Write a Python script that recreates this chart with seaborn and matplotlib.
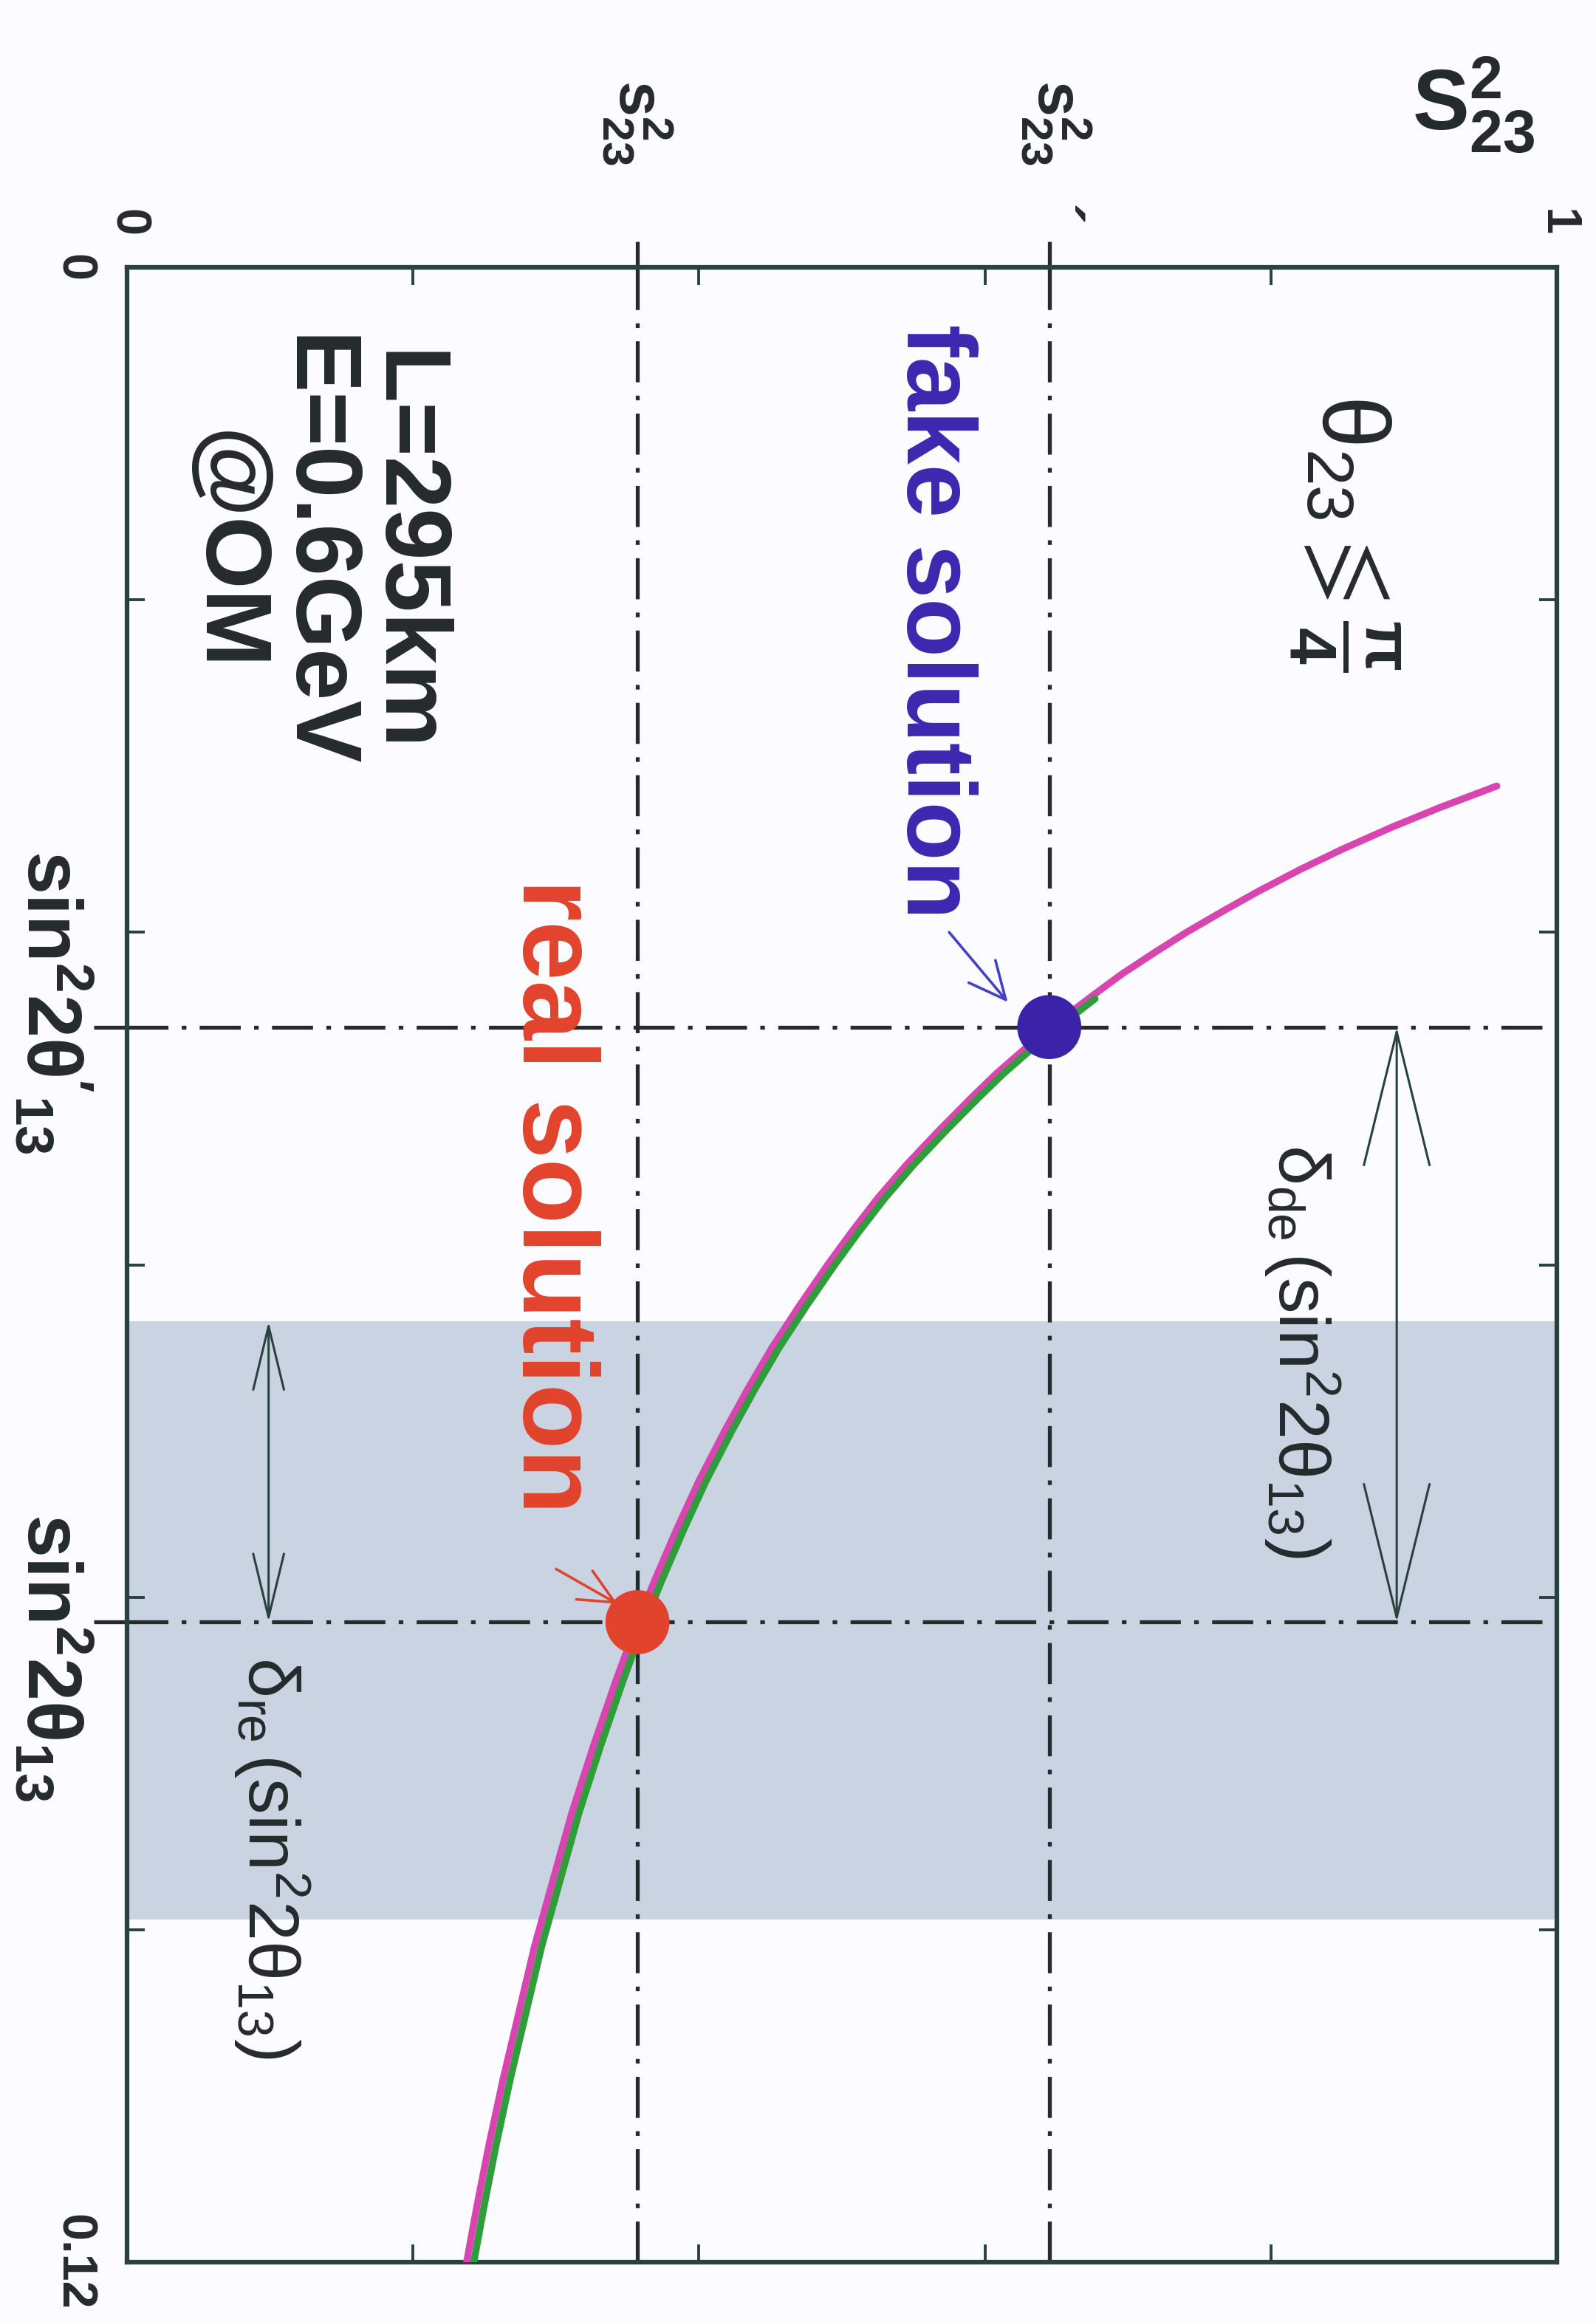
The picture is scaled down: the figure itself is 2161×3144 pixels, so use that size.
import matplotlib
matplotlib.use("Agg")
import matplotlib.pyplot as plt
from matplotlib.patches import FancyArrowPatch, ArrowStyle
from matplotlib.transforms import blended_transform_factory
import pandas as pd
import seaborn as sns

# iso-probability contour: sin^2(2 theta13) samples and the matching s23^2
pink_sin2 = [0.0312, 0.0325, 0.0337, 0.0350, 0.0362, 0.0375, 0.0387, 0.0400, 0.0412,
             0.0425, 0.0437, 0.0450, 0.0457, 0.0470, 0.0485, 0.0500, 0.0520, 0.0540,
             0.0560, 0.0580, 0.0600, 0.0625, 0.0650, 0.0675, 0.0700, 0.0730, 0.0760,
             0.0790, 0.0815, 0.0850, 0.0890, 0.0930, 0.0970, 0.1010, 0.1050, 0.1090,
             0.1130, 0.1165, 0.1200]
pink_s23 = [0.958, 0.918, 0.884, 0.850, 0.821, 0.792, 0.767, 0.741, 0.719,
            0.696, 0.677, 0.657, 0.646, 0.628, 0.608, 0.590, 0.567, 0.545,
            0.525, 0.507, 0.490, 0.470, 0.451, 0.434, 0.418, 0.400, 0.384,
            0.369, 0.357, 0.342, 0.326, 0.311, 0.298, 0.285, 0.274, 0.263,
            0.253, 0.245, 0.2375]

# second contour, starting just past the fake solution
green_sin2 = [0.0440, 0.0450, 0.0457, 0.0470, 0.0485, 0.0500, 0.0520, 0.0540, 0.0560,
              0.0580, 0.0600, 0.0625, 0.0650, 0.0675, 0.0700, 0.0730, 0.0760, 0.0790,
              0.0815, 0.0850, 0.0890, 0.0930, 0.0970, 0.1010, 0.1050, 0.1090, 0.1130,
              0.1165, 0.1200]
green_s23 = [0.677, 0.662, 0.651, 0.633, 0.613, 0.595, 0.572, 0.550, 0.530,
             0.512, 0.495, 0.475, 0.456, 0.439, 0.423, 0.405, 0.389, 0.374,
             0.362, 0.347, 0.331, 0.316, 0.303, 0.290, 0.279, 0.268, 0.258,
             0.250, 0.2425]

# fake / real solutions
solution_names = ["fake", "real"]
solution_s23 = [0.645, 0.357]
solution_sin2 = [0.0457, 0.0815]
solution_colors = ["#3b22a8", "#e2432c"]

# sin^2(2 theta13) range of the real-solution uncertainty band
band_sin2 = [0.0634, 0.0994]

s23_ticks = [0.0, 0.2, 0.4, 0.6, 0.8, 1.0]
s23_tick_labels = ["0", "", "", "", "", "1"]
sin2_ticks = [0.0, 0.02, 0.04, 0.06, 0.08, 0.10, 0.12]
sin2_tick_labels = ["0", "", "", "", "", "", "0.12"]

INK = "#252b2b"
FRAME = "#29423f"
BG = "#fcfbff"

sns.set_style("ticks")
plt.rcParams["font.family"] = ["Liberation Sans", "DejaVu Sans"]
plt.rcParams.update({
    "mathtext.fontset": "custom",
    "mathtext.rm": "Liberation Sans",
    "mathtext.it": "Liberation Sans:italic",
    "mathtext.bf": "Liberation Sans:bold",
    "mathtext.fallback": "stixsans",
    "lines.scale_dashes": False,
    "text.color": INK,
})

W, H = 2161, 3144
L, R, T, B = 172, 2108, 362, 3063
fig = plt.figure(figsize=(W / 100, H / 100), dpi=100, facecolor=BG)
ax = fig.add_axes([L / W, 1 - B / H, (R - L) / W, (B - T) / H])
ax.set_facecolor(BG)
ax.set_xlim(0, 1)
ax.set_ylim(0.12, 0)

# uncertainty band around the real solution
ax.axhspan(band_sin2[0], band_sin2[1], color="#c9d3e2", lw=0, zorder=0)

# dash-dot guide lines through both solutions, with short solid stubs outside the frame
DLW = 3.8
dd = dict(color=INK, lw=DLW, dashes=(40, 13, 4.5, 13), zorder=2)
tr_top = blended_transform_factory(ax.transData, ax.transAxes)
tr_left = blended_transform_factory(ax.transAxes, ax.transData)
for s in solution_s23:
    ax.axvline(s, **dd)
    ax.plot([s, s], [1.0, 1.013], transform=tr_top, color=INK, lw=DLW,
            clip_on=False, solid_capstyle="butt")
for t in solution_sin2:
    ax.axhline(t, **dd)
    ax.plot([-0.023, 0.0], [t, t], transform=tr_left, color=INK, lw=DLW,
            clip_on=False, solid_capstyle="butt")

# contours
pink = pd.DataFrame({"s23": pink_s23, "sin2": pink_sin2})
green = pd.DataFrame({"s23": green_s23, "sin2": green_sin2})
sns.lineplot(data=pink, x="s23", y="sin2", sort=False, estimator=None,
             color="#d845b0", lw=6.8, ax=ax, zorder=3)
sns.lineplot(data=green, x="s23", y="sin2", sort=False, estimator=None,
             color="#2f9e3a", lw=6.8, ax=ax, zorder=3)

# solution markers
sol = pd.DataFrame({"name": solution_names, "s23": solution_s23, "sin2": solution_sin2})
sns.scatterplot(data=sol, x="s23", y="sin2", hue="name",
                palette=dict(zip(solution_names, solution_colors)),
                s=3900, edgecolor="none", legend=False, ax=ax, zorder=5)


def arrow(p0, p1, style, lw, color):
    ax.add_patch(FancyArrowPatch(p0, p1, arrowstyle=style, lw=lw, color=color,
                                 shrinkA=0, shrinkB=0, mutation_scale=1, zorder=4))


# delta arrows
arrow((0.888, solution_sin2[0]), (0.888, solution_sin2[1]),
      ArrowStyle("<->", head_length=130, head_width=32), 2.2, FRAME)
arrow((0.099, band_sin2[0]), (0.099, solution_sin2[1]),
      ArrowStyle("<->", head_length=62, head_width=15), 2.2, FRAME)

# pointer arrows from the labels to the markers
arrow((0.575, 0.0400), (0.616, 0.0442),
      ArrowStyle("->", head_length=36, head_width=17), 2.6, "#4141c4")
arrow((0.300, 0.0783), (0.343, 0.0804),
      ArrowStyle("->", head_length=34, head_width=16), 2.6, "#e2432c")

rot = dict(rotation=270, ha="center", va="center")
ax.text(0.5635, 0.0213, "fake solution", fontsize=94, fontweight="bold",
        color="#3b28b0", **rot)
ax.text(0.296, 0.0559, "real solution", fontsize=104, fontweight="bold",
        color="#e2432c", **rot)
ax.text(0.131, 0.0171, "L=295km\nE=0.6GeV\n@OM", fontsize=91, fontweight="bold",
        multialignment="center", linespacing=1.03, **rot)
ax.text(0.852, 0.016, r"$\mathrm{\theta}_{23}\lessgtr\mathbf{\frac{\pi}{4}}$",
        fontsize=92, **rot)
ax.text(0.822, 0.0652, r"$\mathregular{\delta_{de}\,(sin^{2}2\theta_{13})}$",
        fontsize=70, **rot)
ax.text(0.101, 0.0957, r"$\mathregular{\delta_{re}\,(sin^{2}2\theta_{13})}$",
        fontsize=70, **rot)

# symbolic axis labels for the two solutions
ax.text(-0.052, 0.0442, r"$\mathbf{sin^{2}2\theta'_{13}}$", transform=tr_left,
        fontsize=75, **rot)
ax.text(-0.052, 0.0836, r"$\mathbf{sin^{2}2\theta_{13}}$", transform=tr_left,
        fontsize=75, **rot)
ax.text(solution_s23[1], 1.094, r"$\mathbf{s^{2}_{23}}$", transform=tr_top,
        fontsize=62, rotation=270, ha="center", va="top")
ax.text(solution_s23[0] + 0.005, 1.094, r"$\mathbf{s^{2}_{23}}$  ´", transform=tr_top,
        fontsize=62, fontweight="bold", rotation=270, ha="center", va="top")
fig.text(1995 / W, 1 - 142 / H, r"$\mathbf{S^{2}_{23}}$", fontsize=83,
         ha="center", va="center")

# frame and ticks
ax.set_xticks(s23_ticks, s23_tick_labels, rotation=270, fontweight="bold")
ax.set_yticks(sin2_ticks, sin2_tick_labels, rotation=270, fontweight="bold")
for lab in ax.get_yticklabels():
    lab.set_verticalalignment("center")
ax.tick_params(axis="both", direction="in", length=17, width=2.8, color=FRAME,
               labelcolor=INK, labelsize=48, pad=30,
               top=True, bottom=True, left=True, right=True,
               labeltop=True, labelbottom=False, labelleft=True, labelright=False)
ax.set_xlabel("")
ax.set_ylabel("")
for sp in ax.spines.values():
    sp.set_visible(True)
    sp.set_color(FRAME)
    sp.set_linewidth(4.5)

fig.savefig("out.png", dpi=100, facecolor=BG)
